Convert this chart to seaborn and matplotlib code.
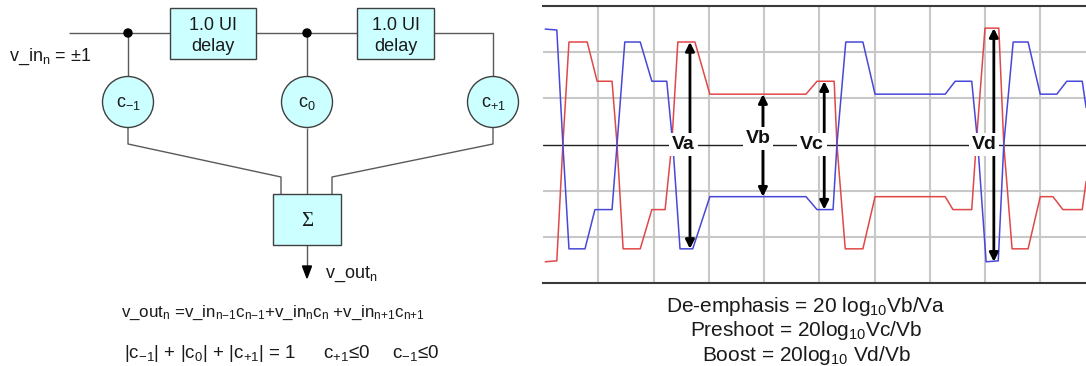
import numpy as np
import pandas as pd
import matplotlib
matplotlib.use("Agg")
import matplotlib.pyplot as plt
import seaborn as sns
from matplotlib.patches import Rectangle, Circle, Polygon

# ---------------- data ----------------
red_t = [0.04, 0.25, 0.36, 0.47, 0.80, 0.98, 1.25, 1.34, 1.45, 1.76, 1.97, 2.21, 2.33, 2.44,
         2.75, 3.02, 4.76, 4.96, 5.27, 5.32, 5.47, 5.79, 6.01, 7.28, 7.42, 7.76, 7.84, 8.00,
         8.25, 8.34, 8.49, 8.78, 9.00, 9.23, 9.41, 9.76, 9.83]
red_v = [-2.54, -2.52, 0.0, 2.22, 2.22, 1.37, 1.37, 0.0, -2.26, -2.26, -1.41, -1.41, 0.0, 2.22,
         2.22, 1.09, 1.09, 1.37, 1.37, 0.0, -2.26, -2.26, -1.13, -1.13, -1.41, -1.41, 0.0, 2.52,
         2.52, 0.0, -2.26, -2.26, -1.13, -1.13, -1.41, -1.41, -0.8]
blue_t = [0.04, 0.25, 0.36, 0.47, 0.76, 0.94, 1.25, 1.34, 1.48, 1.76, 1.97, 2.24, 2.35, 2.48,
          2.71, 3.02, 4.76, 4.96, 5.25, 5.32, 5.48, 5.79, 6.01, 7.28, 7.46, 7.76, 7.87, 8.02,
          8.24, 8.34, 8.51, 8.78, 9.00, 9.30, 9.48, 9.76, 9.83]
blue_v = [2.50, 2.48, 0.0, -2.26, -2.26, -1.41, -1.41, 0.0, 2.22, 2.22, 1.37, 1.37, 0.0, -2.26,
          -2.26, -1.13, -1.13, -1.41, -1.41, 0.0, 2.22, 2.22, 1.09, 1.09, 1.37, 1.37, 0.0, -2.54,
          -2.52, 0.0, 2.22, 2.22, 1.09, 1.09, 1.37, 1.37, 0.8]

meas_labels = ["Va", "Vb", "Vc", "Vd"]
meas_x = [2.66, 3.98, 5.09, 8.16]
meas_top = [2.22, 1.09, 1.37, 2.52]
meas_bot = [-2.26, -1.13, -1.41, -2.54]

tap_labels = ["c$_{-1}$", "c$_{0}$", "c$_{+1}$"]
delay_labels = ["1.0 UI\ndelay", "1.0 UI\ndelay"]
input_label = "v_in$_{n}$ = \u00b11"
output_label = "v_out$_{n}$"
eq1 = "v_out$_{n}$ =v_in$_{n{-}1}$c$_{n{-}1}$+v_in$_{n}$c$_{n}$ +v_in$_{n{+}1}$c$_{n{+}1}$"
eq2_parts = ["|c$_{-1}$| + |c$_{0}$| + |c$_{+1}$| = 1", "c$_{+1}$\u22640", "c$_{-1}$\u22640"]
formula_lines = ["De-emphasis = 20 log$_{10}$Vb/Va",
                 "Preshoot = 20log$_{10}$Vc/Vb",
                 "Boost = 20log$_{10}$ Vd/Vb"]

# ---------------- style ----------------
sns.set_theme(style="white")
plt.rcParams['font.family'] = ['Liberation Sans', 'DejaVu Sans']
plt.rcParams['mathtext.fontset'] = 'custom'
plt.rcParams['mathtext.rm'] = 'Liberation Sans'
plt.rcParams['mathtext.it'] = 'Liberation Sans'
plt.rcParams['mathtext.default'] = 'regular'

W, H = 1086, 366
fig = plt.figure(figsize=(W / 100, H / 100), dpi=100)
fig.patch.set_facecolor('white')

# ---------------- left: block diagram (pixel coordinates) ----------------
axL = fig.add_axes([0, 0, 1, 1])
axL.set_xlim(0, W)
axL.set_ylim(H, 0)
axL.axis('off')

wire = dict(color='#5a5a5a', lw=1.0, solid_capstyle='butt')
fill = '#ccffff'
edge = '#404040'
txt = '#1a1a1a'

def wire_path(xs, ys):
    axL.plot(xs, ys, **wire, zorder=1)

wire_path([69, 170], [33, 33])
wire_path([256, 357], [33, 33])
wire_path([434, 493, 493], [33, 33, 76])
wire_path([128, 128], [33, 76])
wire_path([307, 307], [33, 76])
wire_path([128, 128, 281, 281], [128, 144, 177, 194])
wire_path([307, 307], [128, 194])
wire_path([493, 493, 332, 332], [128, 144, 177, 194])
wire_path([307, 307], [245, 268])

for x0, x1, lab in [(170, 256, delay_labels[0]), (357, 434, delay_labels[1])]:
    axL.add_patch(Rectangle((x0, 8), x1 - x0, 51, facecolor=fill, edgecolor=edge, lw=1.0, zorder=2))
    axL.text((x0 + x1) / 2, 36, lab, ha='center', va='center', fontsize=13,
             linespacing=1.3, color=txt, zorder=3)

for cx, lab in zip([128, 307, 493], tap_labels):
    axL.add_patch(Circle((cx, 102), 25.5, facecolor=fill, edgecolor=edge, lw=1.0, zorder=2))
    axL.text(cx, 103, lab, ha='center', va='center', fontsize=13, color=txt, zorder=3)

for cx in [128, 307]:
    axL.add_patch(Circle((cx, 33), 4, facecolor='black', edgecolor='black', zorder=3))

axL.add_patch(Rectangle((273, 194), 68, 51, facecolor=fill, edgecolor=edge, lw=1.0, zorder=2))
axL.text(307, 221, "\u03a3", ha='center', va='center', fontsize=15, family='Liberation Serif',
         color=txt, zorder=3)
axL.add_patch(Polygon([[302.5, 266], [311.5, 266], [307, 278]], closed=True,
                      facecolor='black', edgecolor='black', zorder=3))

axL.text(9, 57, input_label, ha='left', va='center', fontsize=13, color=txt)
axL.text(325, 274, output_label, ha='left', va='center', fontsize=13, color=txt)
axL.text(121, 317, eq1, ha='left', va='baseline', fontsize=12.2, color=txt)
axL.text(124, 358, eq2_parts[0], ha='left', va='baseline', fontsize=13.5, color=txt)
axL.text(323, 358, eq2_parts[1], ha='left', va='baseline', fontsize=13.5, color=txt)
axL.text(392, 358, eq2_parts[2], ha='left', va='baseline', fontsize=13.5, color=txt)

for i, line in enumerate(formula_lines):
    axL.text(806, 312 + 24.5 * i, line, ha='center', va='baseline', fontsize=15, color=txt)

# ---------------- right: waveform ----------------
axR = fig.add_axes([543 / W, (H - 283) / H, (W - 543) / W, 277 / H])
axR.set_facecolor('none')
df_red = pd.DataFrame({'t': red_t, 'v': red_v})
df_blue = pd.DataFrame({'t': blue_t, 'v': blue_v})
sns.lineplot(data=df_red, x='t', y='v', ax=axR, color='#e04848', lw=1.1, estimator=None, zorder=3)
sns.lineplot(data=df_blue, x='t', y='v', ax=axR, color='#4848d8', lw=1.1, estimator=None, zorder=3)

axR.set_xlim(0, (W - 543) / 55.25)
axR.set_ylim(-3, 3)
axR.set_xticks(range(1, 10))
axR.set_yticks([-2, -1, 1, 2])
axR.grid(True, color='#c8c8c8', lw=1.5, zorder=0)
axR.set_axisbelow(True)
axR.tick_params(length=0, labelbottom=False, labelleft=False)
axR.set_xlabel('')
axR.set_ylabel('')
axR.axhline(0, color='#202020', lw=1.0, zorder=2)
for s in ['left', 'right']:
    axR.spines[s].set_visible(False)
for s in ['top', 'bottom']:
    axR.spines[s].set_color('#3a3a3a')
    axR.spines[s].set_linewidth(1.5)

label_pos = [(2.54, 0.0), (3.89, 0.13), (4.87, 0.0), (7.98, 0.0)]
for lab, x, top, bot, (lx, ly) in zip(meas_labels, meas_x, meas_top, meas_bot, label_pos):
    axR.annotate('', xy=(x, top), xytext=(x, bot),
                 arrowprops=dict(arrowstyle='<|-|>', color='black', lw=2.0,
                                 mutation_scale=13, shrinkA=0, shrinkB=0), zorder=4)
    axR.text(lx, ly, lab, ha='center', va='center', fontsize=14, fontweight='bold',
             color='#111111', zorder=6,
             bbox=dict(boxstyle='square,pad=0.15', facecolor='white', edgecolor='none'))

fig.savefig('out.png', dpi=100, facecolor='white')
